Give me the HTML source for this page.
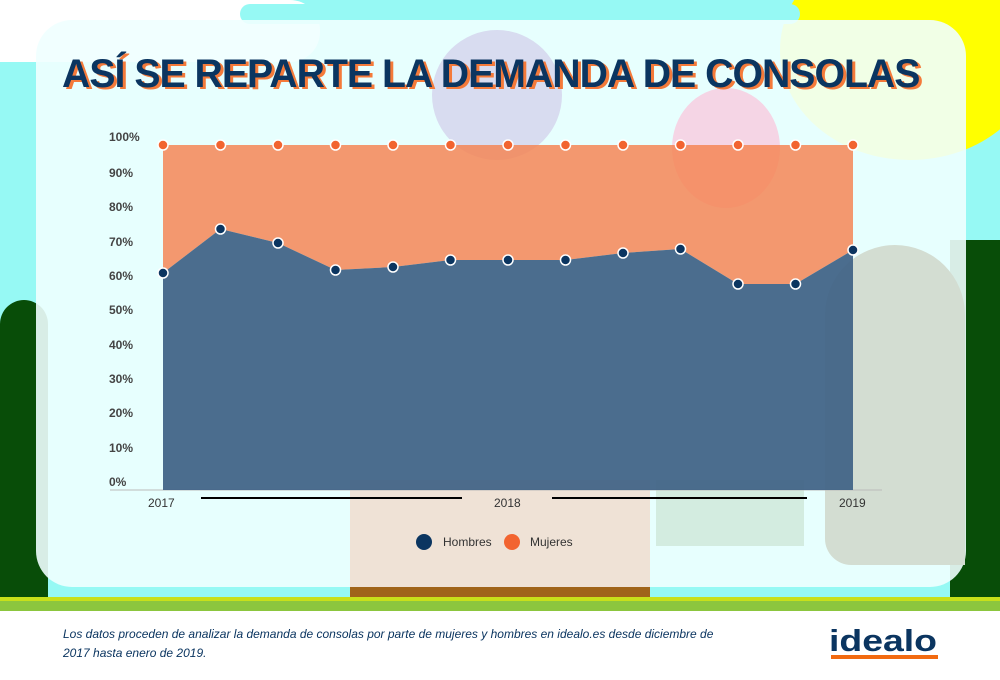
<!DOCTYPE html>
<html><head><meta charset="utf-8"><style>
body{margin:0;width:1000px;height:680px;overflow:hidden;background:#fff;font-family:"Liberation Sans",sans-serif;position:relative}
.a{position:absolute}
</style></head><body>
<div class="a" style="left:0;top:0;width:1000px;height:600px;background:#96f9f4"></div>
<div class="a" style="left:0;top:300px;width:48px;height:300px;background:#084d08;border-radius:40px 40px 0 0"></div>
<div class="a" style="left:950px;top:240px;width:50px;height:360px;background:#084d08"></div>
<div class="a" style="left:780px;top:-60px;width:260px;height:220px;background:#ffff00;border-radius:50%"></div>
<div class="a" style="left:0;top:0;width:320px;height:62px;background:#fff;border-radius:0 30px 30px 0"></div>
<div class="a" style="left:240px;top:4px;width:560px;height:20px;background:#96f9f4;border-radius:10px"></div>
<div class="a" style="left:36px;top:20px;width:930px;height:567px;background:rgba(240,255,255,0.9);border-radius:36px"></div>
<div class="a" style="left:432px;top:30px;width:130px;height:130px;background:#d8dcf0;border-radius:50%"></div>
<div class="a" style="left:672px;top:88px;width:108px;height:120px;background:#f5d5e5;border-radius:50%"></div>
<div class="a" style="left:825px;top:245px;width:140px;height:320px;background:#d3ddd2;border-radius:80px 80px 0 30px"></div>
<div class="a" style="left:350px;top:480px;width:300px;height:118px;background:#efe2d6"></div>
<div class="a" style="left:656px;top:480px;width:148px;height:66px;background:#d3ece0"></div>
<div class="a" style="left:350px;top:587px;width:300px;height:11px;background:#a0641a"></div>
<div class="a" style="left:0;top:597px;width:1000px;height:4px;background:#c8e01a"></div>
<div class="a" style="left:0;top:601px;width:1000px;height:10px;background:#8cc63e"></div>
<div class="a" style="left:65px;top:54px;font:bold 40px 'Liberation Sans',sans-serif;color:#f47a3a;transform:scaleX(0.98);transform-origin:left;white-space:nowrap;letter-spacing:-1px">ASÍ SE REPARTE LA DEMANDA DE CONSOLAS</div>
<div class="a" style="left:62px;top:52px;font:bold 40px 'Liberation Sans',sans-serif;color:#0b3560;transform:scaleX(0.98);transform-origin:left;white-space:nowrap;letter-spacing:-1px">ASÍ SE REPARTE LA DEMANDA DE CONSOLAS</div>
<svg class="a" style="left:0;top:0" width="1000" height="680">
<g font-family="Liberation Sans" font-size="12" fill="#444" font-weight="bold">
<text x="109" y="141">100%</text><text x="109" y="177">90%</text><text x="109" y="211">80%</text><text x="109" y="246">70%</text><text x="109" y="280">60%</text><text x="109" y="314">50%</text><text x="109" y="349">40%</text><text x="109" y="383">30%</text><text x="109" y="417">20%</text><text x="109" y="452">10%</text><text x="109" y="486">0%</text>
<text x="148" y="507" font-weight="normal" fill="#333">2017</text><text x="494" y="507" font-weight="normal" fill="#333">2018</text><text x="839" y="507" font-weight="normal" fill="#333">2019</text>
</g>
<line x1="110" y1="490" x2="882" y2="490" stroke="#bbb"/>
<line x1="201" y1="498" x2="462" y2="498" stroke="#000" stroke-width="2"/>
<line x1="552" y1="498" x2="807" y2="498" stroke="#000" stroke-width="2"/>
<polygon fill="#f58656" fill-opacity="0.85" points="163,145 853,145 853,250 795.5,284 738,284 680.5,249 623,253 565.5,260 508,260 450.5,260 393,267 335.5,270 278,243 220.5,229 163,273"/>
<polygon fill="#3e6184" fill-opacity="0.92" points="163,273 220.5,229 278,243 335.5,270 393,267 450.5,260 508,260 565.5,260 623,253 680.5,249 738,284 795.5,284 853,250 853,490 163,490"/>
<g stroke="#fff" stroke-width="1.5" fill="#f26430">
<circle cx="163" cy="145" r="5"/><circle cx="220.5" cy="145" r="5"/><circle cx="278" cy="145" r="5"/><circle cx="335.5" cy="145" r="5"/><circle cx="393" cy="145" r="5"/><circle cx="450.5" cy="145" r="5"/><circle cx="508" cy="145" r="5"/><circle cx="565.5" cy="145" r="5"/><circle cx="623" cy="145" r="5"/><circle cx="680.5" cy="145" r="5"/><circle cx="738" cy="145" r="5"/><circle cx="795.5" cy="145" r="5"/><circle cx="853" cy="145" r="5"/>
</g>
<g stroke="#fff" stroke-width="1.5" fill="#0b3560">
<circle cx="163" cy="273" r="5"/><circle cx="220.5" cy="229" r="5"/><circle cx="278" cy="243" r="5"/><circle cx="335.5" cy="270" r="5"/><circle cx="393" cy="267" r="5"/><circle cx="450.5" cy="260" r="5"/><circle cx="508" cy="260" r="5"/><circle cx="565.5" cy="260" r="5"/><circle cx="623" cy="253" r="5"/><circle cx="680.5" cy="249" r="5"/><circle cx="738" cy="284" r="5"/><circle cx="795.5" cy="284" r="5"/><circle cx="853" cy="250" r="5"/>
</g>
<circle cx="424" cy="542" r="8" fill="#0b3560"/><circle cx="512" cy="542" r="8" fill="#f26430"/>
<text x="443" y="546" font-family="Liberation Sans" font-size="12" fill="#333">Hombres</text>
<text x="530" y="546" font-family="Liberation Sans" font-size="12" fill="#333">Mujeres</text>
<text x="63" y="638" font-family="Liberation Sans" font-size="12" font-style="italic" fill="#0b3560">Los datos proceden de analizar la demanda de consolas por parte de mujeres y hombres en idealo.es desde diciembre de</text>
<text x="63" y="657" font-family="Liberation Sans" font-size="12" font-style="italic" fill="#0b3560">2017 hasta enero de 2019.</text>
<text x="829" y="651" font-family="Liberation Sans" font-size="31" font-weight="bold" fill="#0b3560" textLength="108" lengthAdjust="spacingAndGlyphs">idealo</text>
<rect x="831" y="655" width="107" height="4" fill="#f26a10"/>
</svg>
</body></html>
